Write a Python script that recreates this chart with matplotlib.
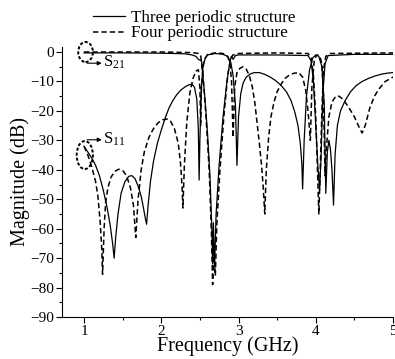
import matplotlib
matplotlib.use("Agg")
import matplotlib.pyplot as plt
from matplotlib.patches import Ellipse
from matplotlib.lines import Line2D
from matplotlib.ticker import MultipleLocator

plt.rcParams.update(
    {
        "font.family": "Liberation Serif",
        "mathtext.fontset": "custom",
        "mathtext.rm": "Liberation Serif",
        "mathtext.it": "Liberation Serif:italic",
        "xtick.direction": "out",
        "ytick.direction": "out",
    }
)

# S11, three periodic structure (solid)
s11_3_f = [1.00, 1.05, 1.10, 1.15, 1.20, 1.25, 1.30, 1.34, 1.37, 1.39, 1.41, 1.44, 1.48, 1.53,
           1.58, 1.62, 1.66, 1.70, 1.74, 1.77, 1.79, 1.81, 1.83, 1.86, 1.90, 1.95, 2.00, 2.05,
           2.10, 2.15, 2.20, 2.25, 2.30, 2.35, 2.40, 2.43, 2.46, 2.48, 2.49, 2.50, 2.52, 2.54,
           2.57, 2.60, 2.70, 2.80, 2.86, 2.90, 2.93, 2.96, 2.98, 3.00, 3.03, 3.06, 3.10, 3.15,
           3.20, 3.27, 3.34, 3.41, 3.48, 3.55, 3.62, 3.68, 3.73, 3.77, 3.80, 3.82, 3.83, 3.85,
           3.88, 3.92, 3.96, 4.00, 4.04, 4.08, 4.11, 4.13, 4.15, 4.17, 4.19, 4.21, 4.23, 4.25,
           4.28, 4.32, 4.38, 4.45, 4.52, 4.60, 4.68, 4.76, 4.84, 4.92, 5.00]
s11_3_db = [-32, -34, -36, -38.5, -42, -47, -53, -59, -65, -70, -63, -55, -48, -44,
            -42.2, -42, -43, -45.5, -49, -53, -56, -58.5, -52, -44, -37, -31, -26.5, -22.5,
            -19, -16.5, -14.5, -13, -12, -11.2, -11, -12, -16, -26, -43.5, -30, -12, -5,
            -2, -1, -0.5, -0.8, -1.5, -3.5, -8, -18, -38.5, -22, -14, -10.5, -8.5, -7.5,
            -7, -7, -7.6, -8.5, -9.7, -11.3, -13.5, -16.5, -20.5, -25, -31, -38, -46.5, -30,
            -15, -6, -2, -1, -1.5, -5, -18, -48, -34, -30, -33, -40, -52, -35,
            -25, -20, -16.5, -13.5, -11.5, -10, -9, -8.2, -7.6, -7.2, -7]

# S11, four periodic structure (dashed)
s11_4_f = [1.00, 1.05, 1.10, 1.15, 1.18, 1.21, 1.23, 1.24, 1.26, 1.28, 1.31, 1.35, 1.40, 1.45,
           1.50, 1.55, 1.60, 1.64, 1.67, 1.70, 1.74, 1.78, 1.84, 1.90, 1.96, 2.02, 2.08, 2.12,
           2.17, 2.22, 2.25, 2.27, 2.28, 2.30, 2.33, 2.37, 2.41, 2.45, 2.48, 2.50, 2.51, 2.52,
           2.55, 2.60, 2.70, 2.80, 2.86, 2.89, 2.91, 2.93, 2.95, 2.98, 3.02, 3.06, 3.10, 3.14,
           3.18, 3.21, 3.24, 3.27, 3.30, 3.32, 3.34, 3.36, 3.39, 3.42, 3.46, 3.50, 3.55, 3.60,
           3.66, 3.72, 3.78, 3.83, 3.87, 3.90, 3.93, 3.95, 3.98, 4.01, 4.05, 4.08, 4.10, 4.12,
           4.14, 4.17, 4.21, 4.26, 4.30, 4.35, 4.42, 4.50, 4.56, 4.60, 4.64, 4.70, 4.76, 4.82,
           4.90, 5.00]
s11_4_db = [-32, -35, -39, -44, -49, -58, -67, -75.5, -60, -51, -46, -42.5, -40.5, -39.8,
            -40.2, -42, -46, -52, -63, -50, -40, -34, -29, -26, -24, -23, -22.8, -23.5,
            -26, -31, -38, -46, -53, -38, -24, -14, -9, -6.5, -6, -12, -25, -12,
            -3, -0.8, -0.3, -0.5, -1.5, -4, -10, -29, -12, -7, -5.5, -5, -5.8, -8,
            -12, -17, -24, -31, -39, -46, -55, -40, -29, -22, -17, -13.5, -11, -9,
            -7.8, -7.2, -7, -8.5, -13, -20, -30, -12, -3, -1, -1.2, -4, -15, -42,
            -32, -22, -17, -15, -15, -16, -18.5, -22, -25.5, -27.5, -25, -19, -15, -12.5,
            -10, -8.5]

# S21, three periodic structure (solid)
s21_3_f = [1.00, 1.50, 2.00, 2.30, 2.40, 2.45, 2.48, 2.52, 2.56, 2.60, 2.63, 2.655, 2.665, 2.675,
           2.69, 2.71, 2.75, 2.80, 2.85, 2.89, 2.91, 2.93, 2.96, 3.00, 3.50, 3.90, 3.94, 3.97,
           4.00, 4.03, 4.05, 4.07, 4.09, 4.12, 4.16, 4.50, 5.00]
s21_3_db = [-0.3, -0.3, -0.4, -0.6, -1, -1.5, -2.5, -3, -14, -28, -42, -60, -72, -58,
            -73, -55, -38, -22, -10, -3, -1.5, -2.5, -1.2, -1, -1, -1.2, -3, -10,
            -25, -40, -47, -35, -15, -4, -1.2, -0.8, -0.8]

# S21, four periodic structure (dashed)
s21_4_f = [1.00, 1.50, 2.00, 2.40, 2.48, 2.51, 2.54, 2.58, 2.62, 2.65, 2.665, 2.68, 2.70, 2.72,
           2.76, 2.81, 2.86, 2.90, 2.93, 3.00, 3.50, 3.90, 3.94, 3.97, 4.00, 4.02, 4.04, 4.06,
           4.08, 4.10, 4.13, 4.18, 5.00]
s21_4_db = [0, 0, 0, -0.2, -0.5, -1, -8, -22, -40, -62, -79, -68, -76, -58,
            -40, -22, -8, -2, -1, -0.5, -0.3, -0.5, -2, -8, -22, -38, -55, -38,
            -20, -6, -1.5, -0.5, -0.3]

fig = plt.figure(figsize=(3.95, 3.59), dpi=100)
ax = fig.add_axes([62 / 395, 42 / 359, 331 / 395, 270 / 359])

dash = (0, (3.5, 2))
ax.plot(s21_3_f, s21_3_db, color="black", lw=0.9)
ax.plot(s21_4_f, s21_4_db, color="black", lw=1.1, ls=dash)
ax.plot(s11_3_f, s11_3_db, color="black", lw=0.9)
ax.plot(s11_4_f, s11_4_db, color="black", lw=1.1, ls=dash)

# circled groups with labels
dot = (0, (1.6, 1.0))
ax.add_patch(Ellipse((1.02, 0), 0.19, 6.8, fill=False, lw=1.4, ls=dot,
                     color="black", clip_on=False))
ax.add_patch(Ellipse((1.01, -35), 0.21, 9.5, fill=False, lw=1.4, ls=dot,
                     color="black", clip_on=False))
arrow = dict(arrowstyle="-|>", lw=0.8, color="black", mutation_scale=6, shrinkA=0, shrinkB=0)
ax.annotate("", xy=(1.23, -3.8), xytext=(1.04, -3.8), arrowprops=arrow)
ax.annotate("", xy=(1.23, -29.8), xytext=(1.04, -29.8), arrowprops=arrow)
ax.text(1.245, -3.6, r"S$_{21}$", fontsize=12, va="center", ha="left")
ax.text(1.245, -29.6, r"S$_{11}$", fontsize=12, va="center", ha="left")

ax.set_xlim(0.715, 5.0)
ax.set_ylim(-90, 1.7)
ax.xaxis.set_major_locator(MultipleLocator(1))
ax.xaxis.set_minor_locator(MultipleLocator(0.5))
ax.yaxis.set_major_locator(MultipleLocator(10))
ax.yaxis.set_minor_locator(MultipleLocator(5))
ax.tick_params(which="major", length=4, width=0.8, labelsize=11, pad=1.5)
ax.tick_params(which="minor", length=2.5, width=0.8)
ax.spines["top"].set_visible(False)
ax.spines["right"].set_visible(False)
ax.set_xlabel("Frequency (GHz)", fontsize=14.5, labelpad=-1)
ax.set_ylabel("Magnitude (dB)", fontsize=14.5, labelpad=0)

handles = [Line2D([], [], color="black", lw=0.9),
           Line2D([], [], color="black", lw=1.1, ls=dash)]
fig.legend(handles, ["Three periodic structure", "Four periodic structure"],
           loc="upper left", bbox_to_anchor=(93 / 395, 1 - 10 / 359), frameon=False,
           fontsize=12.3, handlelength=1.9, handletextpad=0.3, labelspacing=-0.03,
           borderpad=0, borderaxespad=0)

fig.savefig("out.png", dpi=100)
